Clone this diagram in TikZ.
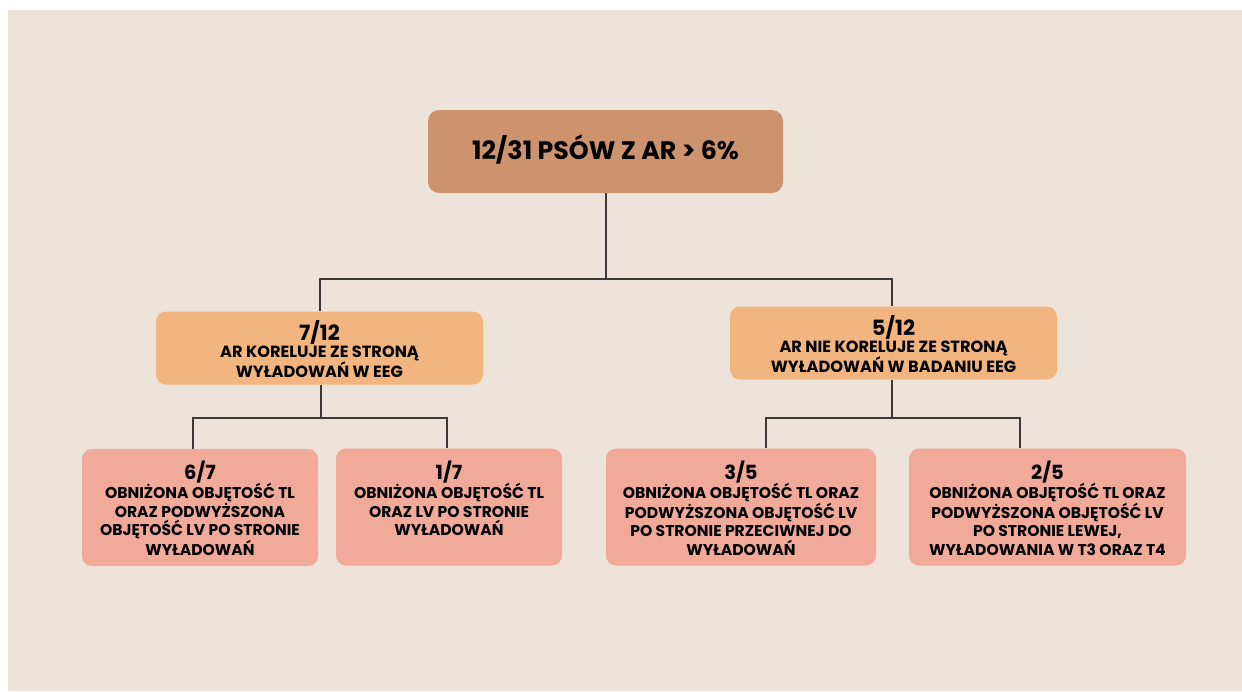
\documentclass[tikz,border=0pt]{standalone}
\usepackage{fontspec}
\setmainfont{Poppins}
\definecolor{bgc}{HTML}{EEE3D9}
\definecolor{topc}{HTML}{CD936F}
\definecolor{midc}{HTML}{F3B57F}
\definecolor{botc}{HTML}{F1A99A}
\definecolor{linec}{HTML}{3A3A3A}
\newcommand{\midhead}{\bfseries\fontsize{21}{22}\selectfont}
\newcommand{\bothead}{\bfseries\fontsize{19.5}{20}\selectfont}
\begin{document}
\begin{tikzpicture}[x=1pt,y=-1pt,
  box/.style={rounded corners=11pt, inner sep=0pt, anchor=center},
  topbox/.style={box, fill=topc, minimum width=355pt, minimum height=83pt},
  midbox/.style={box, fill=midc, minimum width=327pt, minimum height=73pt, rounded corners=10pt},
  botbox/.style={box, fill=botc, minimum height=117pt, rounded corners=10pt},
  ttl/.style={font=\bfseries\fontsize{25.3}{28}\selectfont, text=black},
  midtxt/.style={align=center, inner sep=0pt, font=\bfseries\fontsize{16.2}{17.5}\selectfont, text=black},
  bottxt/.style={align=center, inner sep=0pt, font=\bfseries\fontsize{15.6}{18.4}\selectfont, text=black, anchor=north},
  conn/.style={draw=linec, line width=1.1pt}
]
\useasboundingbox (0,0) rectangle (1242,691);
\fill[white] (0,0) rectangle (1242,691);
\fill[bgc] (8,10) rectangle (1242,691);

% top
\node[topbox] (top) at (605.5,151.5) {};
\node[ttl] (toptxt) at (605.5,150) {12/31 PSÓW Z AR > 6\%};

% middle
\node[midbox] (mL) at (319.5,348) {};
\node[midtxt] (mLt) at (319.5,349) {{\midhead 7/12}\\[0pt]AR KORELUJE ZE STRONĄ\\WYŁADOWAŃ W EEG};
\node[midbox] (mR) at (893.5,343) {};
\node[midtxt] (mRt) at (893.5,344) {{\midhead 5/12}\\[0pt]AR NIE KORELUJE ZE STRONĄ\\WYŁADOWAŃ W BADANIU EEG};

% bottom
\node[botbox, minimum width=236pt] (b1) at (200,507.5) {};
\node[botbox, minimum width=226pt] (b2) at (449,507) {};
\node[botbox, minimum width=270pt] (b3) at (741,507) {};
\node[botbox, minimum width=277pt] (b4) at (1047.5,507) {};

\node[bottxt] (b1t) at (200,461) {{\bothead 6/7}\\[-1pt]OBNIŻONA OBJĘTOŚĆ TL\\ORAZ PODWYŻSZONA\\OBJĘTOŚĆ LV PO STRONIE\\WYŁADOWAŃ};
\node[bottxt] (b2t) at (449,461) {{\bothead 1/7}\\[-1pt]OBNIŻONA OBJĘTOŚĆ TL\\ORAZ LV PO STRONIE\\WYŁADOWAŃ};
\node[bottxt] (b3t) at (741,461) {{\bothead 3/5}\\[-1pt]OBNIŻONA OBJĘTOŚĆ TL ORAZ\\PODWYŻSZONA OBJĘTOŚĆ LV\\PO STRONIE PRZECIWNEJ DO\\WYŁADOWAŃ};
\node[bottxt] (b4t) at (1047.5,461) {{\bothead 2/5}\\[-1pt]OBNIŻONA OBJĘTOŚĆ TL ORAZ\\PODWYŻSZONA OBJĘTOŚĆ LV\\PO STRONIE LEWEJ,\\WYŁADOWANIA W T3 ORAZ T4};

% connectors
\coordinate (j1) at (606,279);
\coordinate (j2) at (321,418);
\coordinate (j3) at (892,418);
\draw[conn] (top.south -| j1) -- (j1);
\draw[conn] (j1) -| ([xshift=0.5pt]mL.north);
\draw[conn] (j1) -| ([xshift=-1.5pt]mR.north);
\draw[conn] (mL.south -| j2) -- (j2);
\draw[conn] (j2) -| ([xshift=-7pt]b1.north);
\draw[conn] (j2) -| ([xshift=-2pt]b2.north);
\draw[conn] (mR.south -| j3) -- (j3);
\draw[conn] (j3) -| ([xshift=25pt]b3.north);
\draw[conn] (j3) -| ([xshift=-27.5pt]b4.north);
\end{tikzpicture}
\end{document}
